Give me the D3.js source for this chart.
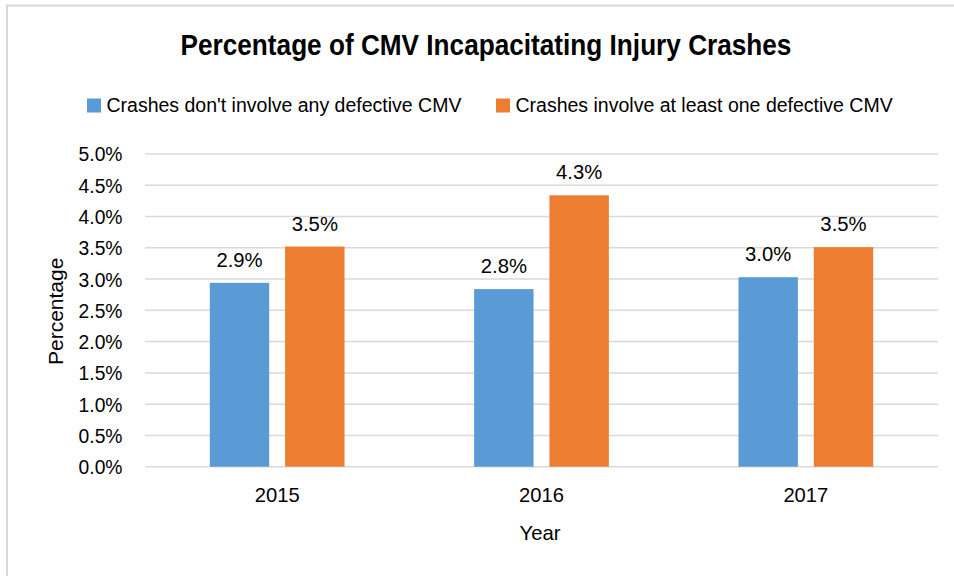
<!DOCTYPE html>
<html>
<head>
<meta charset="utf-8">
<script src="https://cdn.jsdelivr.net/npm/d3@7"></script>
<style>
  html, body { margin: 0; padding: 0; background: #fff; }
  svg { display: block; }
  text { font-family: "Liberation Sans Narrow", "Arial Narrow", "Liberation Sans", Arial, sans-serif; fill: #000; }
</style>
</head>
<body>
<svg id="chart" width="954" height="576"></svg>
<script>
// ---- data ----
const years = ["2015", "2016", "2017"];
const seriesNames = ["Crashes don't involve any defective CMV", "Crashes involve at least one defective CMV"];
const noDefective = [2.94, 2.84, 3.03];
const withDefective = [3.52, 4.34, 3.51];
const yTicks = [0, 0.5, 1.0, 1.5, 2.0, 2.5, 3.0, 3.5, 4.0, 4.5, 5.0];
const seriesColors = ["#5B9BD5", "#ED7D31"];
const titleText = "Percentage of CMV Incapacitating Injury Crashes";
const xTitle = "Year";
const yTitle = "Percentage";

const series = [noDefective, withDefective];
const FONT = '"Liberation Sans", Arial, sans-serif';

const svg = d3.select("#chart");

// chart border (extends beyond viewport on right/bottom)
svg.append("rect")
  .attr("x", 7).attr("y", 5.5)
  .attr("width", 1000).attr("height", 600)
  .attr("fill", "none").attr("stroke", "#d9d9d9").attr("stroke-width", 2);

const plot = { left: 145, right: 938, top: 154, bottom: 466.7 };

const y = d3.scaleLinear().domain([0, 5]).range([plot.bottom, plot.top]);
const x0 = d3.scaleBand().domain(years).range([plot.left, plot.right]).padding(0);
const groupW = 134.7;
const x1 = d3.scaleBand().domain(d3.range(series.length))
  .range([0, groupW]).paddingInner(0.211).paddingOuter(0);

// gridlines
svg.append("g").selectAll("line").data(yTicks).join("line")
  .attr("x1", plot.left).attr("x2", plot.right)
  .attr("y1", d => y(d)).attr("y2", d => y(d))
  .attr("stroke", "#d9d9d9").attr("stroke-width", 1.5);

// y axis labels
const yAxis = d3.axisLeft(y).tickValues(yTicks).tickSize(0).tickPadding(0)
  .tickFormat(d => d.toFixed(1) + "%");
const yg = svg.append("g").attr("transform", `translate(${122.5},0)`).call(yAxis);
yg.select(".domain").remove();
yg.selectAll("text")
  .attr("font-size", 19.3).attr("fill", "#000").attr("dy", "0.36em")
  .style("font-family", FONT);

// x axis labels
const xAxis = d3.axisBottom(x0).tickSize(0).tickPadding(0);
const xg = svg.append("g").attr("transform", `translate(0,${plot.bottom})`).call(xAxis);
xg.select(".domain").remove();
xg.selectAll("text")
  .attr("font-size", 20.2).attr("fill", "#000").attr("y", 35).attr("dy", 0)
  .style("font-family", FONT);

// bars
const groups = svg.append("g").selectAll("g").data(years).join("g")
  .attr("transform", d => `translate(${x0(d) + x0.bandwidth() / 2 - groupW / 2},0)`);

groups.each(function (yr, i) {
  const g = d3.select(this);
  const vals = series.map((s, k) => ({ k, v: s[i] }));
  g.selectAll("rect").data(vals).join("rect")
    .attr("x", d => x1(d.k))
    .attr("width", x1.bandwidth())
    .attr("y", d => y(d.v))
    .attr("height", d => y(0) - y(d.v))
    .attr("fill", d => seriesColors[d.k]);
  g.selectAll("text").data(vals).join("text")
    .attr("x", d => x1(d.k) + x1.bandwidth() / 2)
    .attr("y", d => y(d.v) - 16)
    .attr("text-anchor", "middle")
    .attr("font-size", 20.3)
    .style("font-family", FONT)
    .text(d => d.v.toFixed(1) + "%");
});

// title
svg.append("text")
  .attr("transform", "translate(486,54.5) scale(0.873,1)")
  .attr("text-anchor", "middle")
  .attr("font-size", 30).attr("font-weight", "bold")
  .style("font-family", FONT)
  .text(titleText);

// legend
const legendX = [87, 496];
const leg = svg.append("g").selectAll("g").data(seriesNames).join("g")
  .attr("transform", (d, i) => `translate(${legendX[i]},0)`);
leg.append("rect").attr("x", 0).attr("y", 98.5).attr("width", 14).attr("height", 14)
  .attr("fill", (d, i) => seriesColors[i]);
leg.append("text").attr("x", 19.5).attr("y", 112)
  .attr("font-size", 19.5).style("font-family", FONT).text(d => d);

// axis titles
svg.append("text")
  .attr("x", 540).attr("y", 539.5)
  .attr("text-anchor", "middle").attr("font-size", 20.3)
  .style("font-family", FONT)
  .text(xTitle);

svg.append("text")
  .attr("transform", `translate(63,${(plot.top + plot.bottom) / 2 + 1}) rotate(-90)`)
  .attr("text-anchor", "middle").attr("font-size", 21)
  .style("font-family", FONT)
  .text(yTitle);
</script>
</body>
</html>
